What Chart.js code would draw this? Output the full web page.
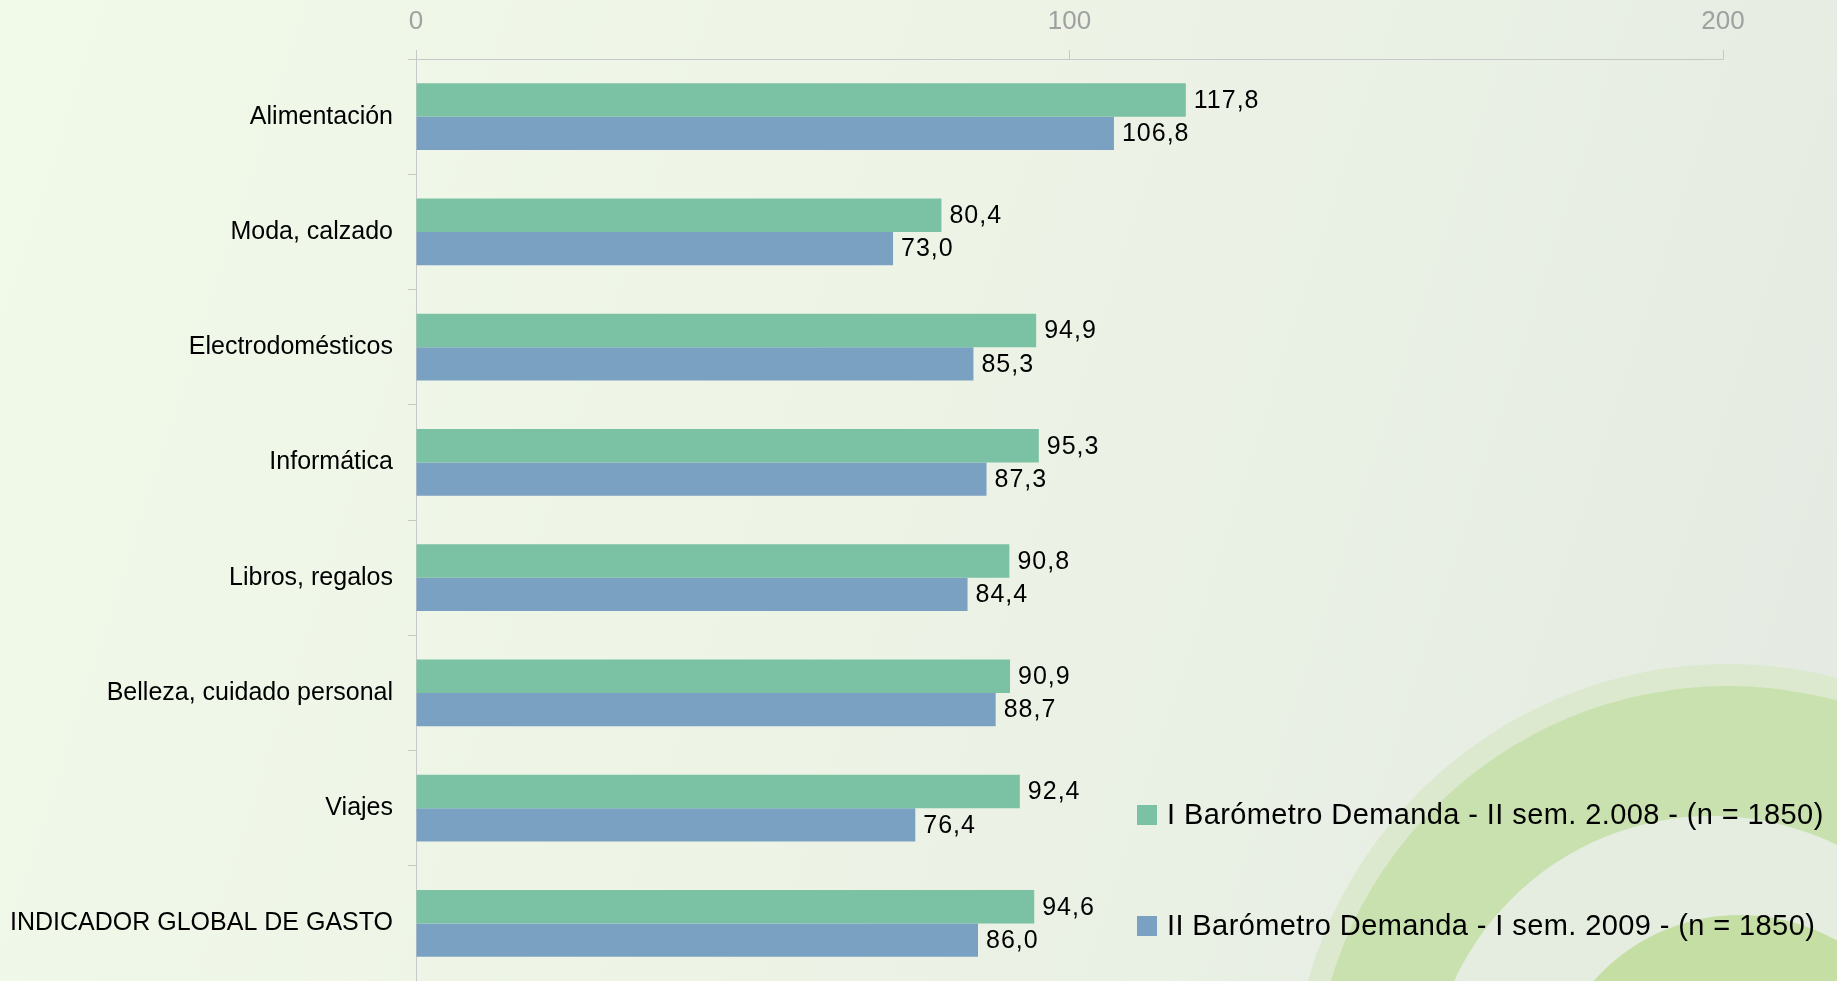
<!DOCTYPE html>
<html lang="es">
<head>
  <meta charset="utf-8" />
  <title>Indicador de gasto</title>
  <script src="https://cdn.jsdelivr.net/npm/chart.js"></script>
  <style>
    html, body { margin: 0; padding: 0; overflow: hidden; background: #eef5e7; }
    #wrap { width: 1837px; height: 981px; }
  </style>
</head>
<body>
  <div id="wrap">
    <canvas id="gastoChart" width="1837" height="981"></canvas>
  </div>

  <script>
    const categorias = ['Alimentación', 'Moda, calzado', 'Electrodomésticos', 'Informática',
                        'Libros, regalos', 'Belleza, cuidado personal', 'Viajes', 'INDICADOR GLOBAL DE GASTO'];
    const serie2008 = [117.8, 80.4, 94.9, 95.3, 90.8, 90.9, 92.4, 94.6];
    const serie2009 = [106.8, 73.0, 85.3, 87.3, 84.4, 88.7, 76.4, 86.0];
    const nombresSeries = ['I Barómetro Demanda - II sem. 2.008 - (n = 1850)',
                           'II Barómetro Demanda - I sem. 2009 - (n = 1850)'];
    const ticksX = [0, 100, 200];

    const FONT = '"Liberation Sans", Arial, sans-serif';
    const verde = '#7bc1a4';
    const azul  = '#7aa1c2';

    // fondo degradado con los arcos verdes abajo a la derecha
    const fondo = {
      id: 'fondo',
      beforeDraw(chart) {
        const c = chart.ctx, w = chart.width, h = chart.height;
        c.save();
        const g = c.createLinearGradient(0, 0, w, h * 0.6);
        g.addColorStop(0, '#f1f9e9');
        g.addColorStop(0.5, '#edf4e6');
        g.addColorStop(1, '#e5ebe2');
        c.fillStyle = g;
        c.fillRect(0, 0, w, h);

        const disco = (x, y, r, col) => {
          c.beginPath(); c.arc(x, y, r, 0, Math.PI * 2); c.fillStyle = col; c.fill();
        };
        disco(1728, 1101, 437, '#dce9cf');
        disco(1728, 1101, 415, '#c9e1ae');
        disco(1712, 1100, 284, '#e5ece0');
        disco(1740, 1110, 195, '#c4dea3');
        c.restore();
      }
    };

    // valores al final de cada barra
    const etiquetas = {
      id: 'etiquetas',
      afterDatasetsDraw(chart) {
        const c = chart.ctx;
        c.save();
        c.font = '25px ' + FONT;
        c.letterSpacing = '1px';
        c.fillStyle = '#000';
        c.textAlign = 'left';
        c.textBaseline = 'middle';
        chart.data.datasets.forEach((ds, i) => {
          chart.getDatasetMeta(i).data.forEach((bar, j) => {
            const txt = ds.data[j].toFixed(1).replace('.', ',');
            c.fillText(txt, bar.x + 8, bar.y + 1);
          });
        });
        c.restore();
      }
    };

    // leyenda vertical dentro del área
    const leyenda = {
      id: 'leyenda',
      afterDraw(chart) {
        const c = chart.ctx;
        const filas = [815, 926];
        c.save();
        c.font = '29px ' + FONT;
        c.letterSpacing = '0.4px';
        c.textBaseline = 'middle';
        chart.data.datasets.forEach((ds, i) => {
          c.fillStyle = ds.backgroundColor;
          c.fillRect(1137, filas[i] - 10, 20, 20);
          c.fillStyle = '#000';
          c.fillText(ds.label, 1167, filas[i] + 1);
        });
        c.restore();
      }
    };

    new Chart(document.getElementById('gastoChart'), {
      type: 'bar',
      data: {
        labels: categorias,
        datasets: [
          { label: nombresSeries[0], data: serie2008, backgroundColor: verde },
          { label: nombresSeries[1], data: serie2009, backgroundColor: azul }
        ]
      },
      options: {
        indexAxis: 'y',
        responsive: false,
        animation: false,
        devicePixelRatio: 1,
        categoryPercentage: 0.58,
        barPercentage: 1.0,
        layout: { padding: { left: 0, right: 114, top: 0, bottom: 0 } },
        plugins: {
          legend: { display: false },
          tooltip: { enabled: false }
        },
        scales: {
          x: {
            type: 'linear',
            position: 'top',
            min: 0,
            max: 200,
            afterBuildTicks: s => { s.ticks = ticksX.map(v => ({ value: v })); },
            afterFit: s => { s.height = 59; },
            ticks: { color: '#a0a0a0', font: { size: 26, family: FONT }, padding: 13 },
            grid: { drawOnChartArea: false, tickLength: 9, color: '#c8c8c8' },
            border: { color: '#c8c8c8' }
          },
          y: {
            afterFit: s => { s.width = 416; s.paddingTop = 0; s.paddingBottom = 0; },
            ticks: { color: '#000', font: { size: 25, family: FONT }, padding: 15 },
            grid: { drawOnChartArea: false, offset: true, tickLength: 8, color: '#c8c8c8' },
            border: { color: '#c8c8c8' }
          }
        }
      },
      plugins: [fondo, etiquetas, leyenda]
    });
  </script>
</body>
</html>
